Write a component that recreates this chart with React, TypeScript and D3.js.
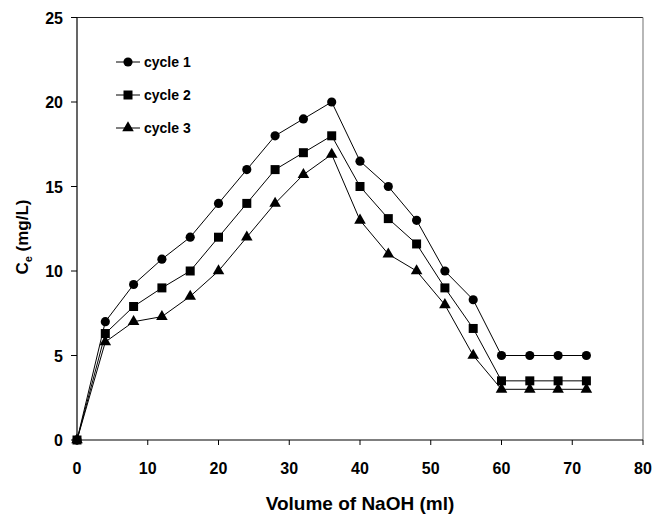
import React from "react";
import * as d3 from "d3";

const volumes = [0, 4, 8, 12, 16, 20, 24, 28, 32, 36, 40, 44, 48, 52, 56, 60, 64, 68, 72];
const cycle1 = [0, 7, 9.2, 10.7, 12, 14, 16, 18, 19, 20, 16.5, 15, 13, 10, 8.3, 5, 5, 5, 5];
const cycle2 = [0, 6.3, 7.9, 9, 10, 12, 14, 16, 17, 18, 15, 13.1, 11.6, 9, 6.6, 3.5, 3.5, 3.5, 3.5];
const cycle3 = [0, 5.8, 7, 7.3, 8.5, 10, 12, 14, 15.7, 16.9, 13, 11, 10, 8, 5, 3, 3, 3, 3];
const seriesNames = ["cycle 1", "cycle 2", "cycle 3"];
const xTicks = [0, 10, 20, 30, 40, 50, 60, 70, 80];
const yTicks = [0, 5, 10, 15, 20, 25];

const W = 665;
const H = 516;
const M = { left: 77, right: 643, top: 17.5, bottom: 440 };

export default function App() {
  const x = d3.scaleLinear().domain([0, 80]).range([M.left, M.right]);
  const y = d3.scaleLinear().domain([0, 25]).range([M.bottom, M.top]);
  const symbols = [d3.symbolCircle, d3.symbolSquare, d3.symbolTriangle];
  const sizes = [66, 81, 58];
  const data = [cycle1, cycle2, cycle3];
  const line = d3
    .line<number>()
    .x((_, i) => x(volumes[i]))
    .y((d) => y(d));
  const font = "'Liberation Sans', Arial, sans-serif";
  return (
    <svg
      width={W}
      height={H}
      style={{ position: "absolute", left: 0, top: 0, background: "#fff" }}
      fontFamily={font}
    >
      {/* frame */}
      <line x1={M.left} x2={M.right} y1={M.top} y2={M.top} stroke="#222" strokeWidth={1} />
      <line x1={M.right} x2={M.right} y1={M.top} y2={M.bottom} stroke="#888" strokeWidth={1.2} />
      {/* axes */}
      <line x1={M.left} x2={M.right} y1={M.bottom} y2={M.bottom} stroke="#000" strokeWidth={1.2} />
      <line x1={M.left} x2={M.left} y1={M.top} y2={M.bottom} stroke="#000" strokeWidth={1.2} />
      {xTicks.map((t) => (
        <g key={"x" + t}>
          <line x1={x(t)} x2={x(t)} y1={M.bottom} y2={M.bottom + 5} stroke="#000" strokeWidth={1} />
          <text x={x(t)} y={474} textAnchor="middle" fontSize={16} fontWeight="bold">
            {t}
          </text>
        </g>
      ))}
      {yTicks.map((t) => (
        <g key={"y" + t}>
          <line x1={M.left - 6} x2={M.left} y1={y(t)} y2={y(t)} stroke="#000" strokeWidth={1} />
          <text x={63} y={y(t) + 6} textAnchor="end" fontSize={16} fontWeight="bold">
            {t}
          </text>
        </g>
      ))}
      {/* series */}
      {data.map((s, k) => (
        <g key={"s" + k}>
          <path d={line(s) || ""} fill="none" stroke="#000" strokeWidth={1} />
          {s.map((v, i) => (
            <path
              key={i}
              d={d3.symbol(symbols[k], sizes[k])() || ""}
              transform={`translate(${x(volumes[i])},${y(v)})`}
              fill="#000"
            />
          ))}
        </g>
      ))}
      {/* legend */}
      {seriesNames.map((n, k) => {
        const ly = 62 + k * 33;
        return (
          <g key={"l" + k}>
            <line x1={116} x2={140} y1={ly} y2={ly} stroke="#000" strokeWidth={1} />
            <path d={d3.symbol(symbols[k], sizes[k])() || ""} transform={`translate(128,${ly})`} fill="#000" />
            <text x={144} y={ly + 5} fontSize={14} fontWeight="bold">
              {n}
            </text>
          </g>
        );
      })}
      {/* axis titles */}
      <text x={360} y={510} textAnchor="middle" fontSize={19} fontWeight="bold">
        Volume of NaOH (ml)
      </text>
      <text
        transform={`translate(28,237) rotate(-90)`}
        textAnchor="middle"
        fontSize={17}
        fontWeight="bold"
      >
        C
        <tspan fontSize={11} dy={4}>e</tspan>
        <tspan dy={-4}> (mg/L)</tspan>
      </text>
    </svg>
  );
}
